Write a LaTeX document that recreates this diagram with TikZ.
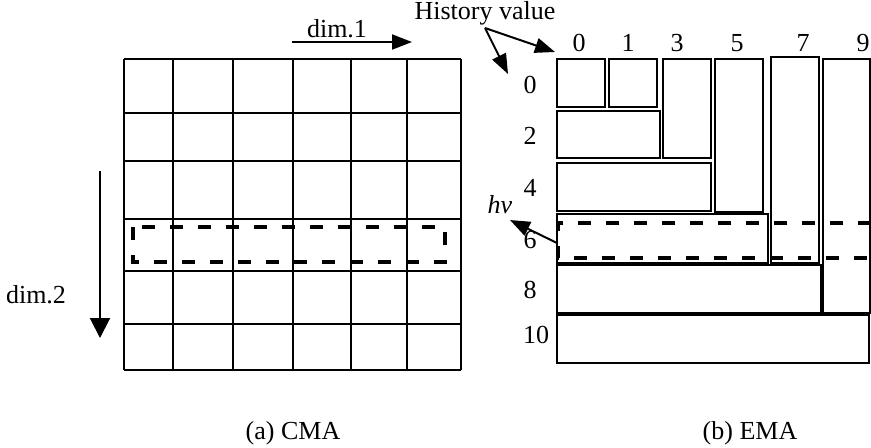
\documentclass[tikz,border=0pt]{standalone}
\usepackage{fontspec}
\setmainfont{Liberation Serif}
\usetikzlibrary{arrows.meta}
\tikzset{
  cell/.style={draw, line width=1pt},
  band/.style={draw, line width=1.9pt, dash pattern=on 6.5pt off 7.5pt},
  lbl/.style={inner sep=0pt}
}

\begin{document}
\begin{tikzpicture}[x=0.5pt, y=-0.5pt, >={Triangle[length=10pt, width=7.5pt]}, font=\fontsize{13}{15}\selectfont]
  \useasboundingbox (0,0) rectangle (871,447);

  % (a) CMA grid
  \foreach \gx in {124,173,233,293,351,407,461}
    \draw[cell] (\gx,59) -- (\gx,370);
  \foreach \gy in {59,113,161,219,271,324,370}
    \draw[cell] (124,\gy) -- (461,\gy);
  \draw[band] (133,227) rectangle (445,262);

  \coordinate (dimonestart) at (292,42);
  \coordinate (dimoneend) at (412,42);
  \node[lbl] (dimone) at (337,29) {dim.1};
  \draw[->, line width=1pt] (dimonestart) -- (dimoneend);

  \coordinate (dimtwostart) at (100,171);
  \coordinate (dimtwoend) at (100,338);
  \node[lbl] (dimtwo) at (36,295) {dim.2};
  \draw[->, line width=1pt, >={Triangle[length=10pt, width=10pt]}] (dimtwostart) -- (dimtwoend);

  \node[lbl] (capa) at (293,433) {(a) CMA};

  % (b) EMA blocks
  \draw[cell] (557,59) rectangle (605,107);
  \draw[cell] (609,59) rectangle (657,107);
  \draw[cell] (663,59) rectangle (711,158);
  \draw[cell] (715,59) rectangle (763,212);
  \draw[cell] (771,57) rectangle (819,263);
  \draw[cell] (823,59) rectangle (870,313);
  \draw[cell] (557,111) rectangle (660,158);
  \draw[cell] (557,163) rectangle (711,211);
  \draw[cell] (557,214) rectangle (768,263);
  \draw[cell] (557,265) rectangle (821,313);
  \draw[cell] (557,315) rectangle (869,363);
  \draw[band] (871,223) -- (558,223) -- (558,258) -- (871,258);

  % history values
  \foreach \hval/\hx in {0/579,1/628,3/677,5/737,7/803,9/863}
    \node[lbl] (col\hval) at (\hx,43) {\hval};
  \foreach \hval/\hy in {0/85,2/136,4/188,6/240,8/290}
    \node[lbl] (row\hval) at (530,\hy) {\hval};
  \node[lbl] (row10) at (536,335) {10};

  \node[inner sep=1pt, anchor=south] (hist) at (485,28) {History value};
  \coordinate (colhead) at (555,52);
  \coordinate (rowhead) at (508,74);
  \draw[->, line width=1pt] (hist.south) -- (colhead);
  \draw[->, line width=1pt] (hist.south) -- (rowhead);

  \node[lbl] (hv) at (500,205) {\itshape hv};
  \coordinate (bandwest) at (557,243);
  \coordinate (hvtip) at (510,220);
  \draw[->, line width=1pt] (bandwest) -- (hvtip);

  \node[lbl] (capb) at (750,433) {(b) EMA};
\end{tikzpicture}
\end{document}
